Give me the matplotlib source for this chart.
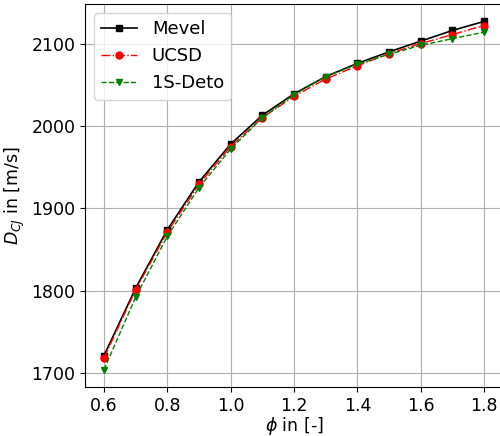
import numpy as np
import matplotlib.pyplot as plt

phi = [0.6, 0.7, 0.8, 0.9, 1.0, 1.1, 1.2, 1.3, 1.4, 1.5, 1.6, 1.7, 1.8]
mevel = [1721, 1803, 1874, 1932, 1978, 2013, 2039, 2060, 2076, 2090, 2103, 2116, 2127]
ucsd = [1718, 1801, 1871, 1929, 1975, 2010, 2036, 2057, 2073, 2088, 2100, 2111, 2122]
deto = [1704, 1792, 1866, 1925, 1972, 2010, 2038, 2060, 2075, 2087, 2098, 2106, 2114]

plt.rcParams['font.size'] = 12.5

fig = plt.figure(figsize=(5, 4.36), dpi=100)
# axes runs slightly past the right edge, as in the reference
ax = fig.add_axes([0.17, 0.1124, 0.836, 0.8784])
ax.plot(phi, mevel, 'k-s', markersize=5, linewidth=1.2, label='Mevel')
ax.plot(phi, ucsd, 'r-.o', markersize=5, linewidth=1.0, label='UCSD')
ax.plot(phi, deto, 'g--v', markersize=5, linewidth=1.0, label='1S-Deto')

ax.set_xlabel(r'$\phi$ in [-]', labelpad=0.5)
ax.set_ylabel(r'$D_{CJ}$ in [m/s]', labelpad=3)
ax.set_yticks([1700, 1800, 1900, 2000, 2100])
ax.grid(True)
ax.legend(loc='upper left', fontsize=13)

fig.savefig('out.png')
